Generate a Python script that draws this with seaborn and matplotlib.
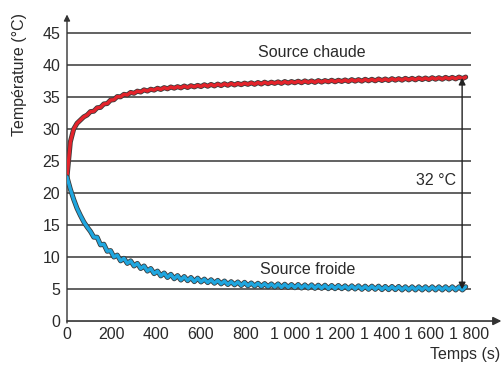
import numpy as np
import pandas as pd
import matplotlib
matplotlib.use("Agg")
import matplotlib.pyplot as plt
import matplotlib.patheffects as pe
import seaborn as sns

# temps d'échantillonnage (s)
temps = np.arange(0, 1800, 15)

# source chaude (°C)
chaude = [22.5, 28.0, 30.0, 30.9, 31.4, 31.9, 32.18, 32.72, 32.78, 33.32,
          33.38, 33.92, 33.98, 34.52, 34.58, 35.07, 35.03, 35.42, 35.33, 35.72,
          35.58, 35.92, 35.78, 36.12, 35.93, 36.22, 36.08, 36.37, 36.18, 36.47,
          36.28, 36.57, 36.38, 36.62, 36.43, 36.72, 36.48, 36.77, 36.58, 36.82,
          36.63, 36.92, 36.68, 36.97, 36.73, 37.02, 36.78, 37.07, 36.83, 37.12,
          36.88, 37.12, 36.93, 37.17, 36.98, 37.22, 36.98, 37.27, 37.03, 37.32,
          37.08, 37.32, 37.13, 37.37, 37.13, 37.42, 37.18, 37.42, 37.23, 37.47,
          37.23, 37.52, 37.28, 37.52, 37.28, 37.57, 37.33, 37.57, 37.38, 37.62,
          37.38, 37.62, 37.43, 37.67, 37.43, 37.72, 37.48, 37.72, 37.48, 37.77,
          37.53, 37.77, 37.53, 37.82, 37.58, 37.82, 37.58, 37.87, 37.63, 37.87,
          37.63, 37.92, 37.68, 37.92, 37.68, 37.97, 37.73, 37.97, 37.73, 38.02,
          37.78, 38.02, 37.78, 38.07, 37.83, 38.07, 37.83, 38.12, 37.88, 38.12]

# source froide (°C)
froide = [22.5, 20.6, 19.0, 17.6, 16.5, 15.5, 14.7, 14.0, 13.1, 13.1,
          11.9, 12.0, 10.9, 11.0, 10.0, 10.3, 9.4, 9.8, 9.0, 9.4,
          8.6, 9.0, 8.2, 8.6, 7.8, 8.2, 7.4, 7.8, 7.05, 7.5,
          6.8, 7.3, 6.6, 7.1, 6.4, 6.95, 6.3, 6.8, 6.15, 6.7,
          6.1, 6.55, 6.0, 6.45, 5.9, 6.35, 5.8, 6.25, 5.7, 6.15,
          5.65, 6.1, 5.55, 6.05, 5.5, 5.95, 5.45, 5.9, 5.4, 5.85,
          5.35, 5.8, 5.3, 5.8, 5.25, 5.75, 5.25, 5.7, 5.2, 5.7,
          5.15, 5.65, 5.15, 5.65, 5.1, 5.6, 5.1, 5.6, 5.05, 5.55,
          5.05, 5.55, 5.05, 5.5, 5.0, 5.5, 5.0, 5.5, 4.95, 5.45,
          4.95, 5.45, 4.95, 5.45, 4.9, 5.4, 4.9, 5.4, 4.9, 5.4,
          4.85, 5.35, 4.85, 5.35, 4.85, 5.35, 4.85, 5.35, 4.85, 5.35,
          4.85, 5.35, 4.85, 5.35, 4.85, 5.35, 4.85, 5.35, 4.85, 5.35]

y_ticks = [0, 5, 10, 15, 20, 25, 30, 35, 40, 45]
x_ticks = [0, 200, 400, 600, 800, 1000, 1200, 1400, 1600, 1800]
x_labels = ["0", "200", "400", "600", "800", "1 000", "1 200", "1 400", "1 600", "1 800"]

df = pd.DataFrame({"temps": temps, "chaude": chaude, "froide": froide})

sns.set_style("white")
plt.rcParams["font.family"] = ["Liberation Sans", "DejaVu Sans"]
txt = "#2a2a2a"
fs = 11.5

fig = plt.figure(figsize=(5.03, 3.67), dpi=100)
ax = fig.add_axes([0.1332, 0.1253, 0.8668, 0.8747])
ax.set_xlim(0, 1952)
ax.set_ylim(0, 50.16)
for s in ax.spines.values():
    s.set_visible(False)

# lignes horizontales
ax.hlines(y_ticks[1:], 0, 1809, color="#555555", lw=1.3, zorder=1)

# axes avec flèches
ax.annotate("", xy=(1945, 0), xytext=(0, 0), annotation_clip=False,
            arrowprops=dict(arrowstyle="-|>", color="#333333", lw=1.2,
                            mutation_scale=12, shrinkA=0, shrinkB=0))
ax.annotate("", xy=(0, 47.9), xytext=(0, -0.3), annotation_clip=False,
            arrowprops=dict(arrowstyle="-|>", color="#333333", lw=1.0,
                            mutation_scale=9, shrinkA=0, shrinkB=0))

edge = [pe.Stroke(linewidth=3.6, foreground="#3a3a3a"), pe.Normal()]
sns.lineplot(data=df, x="temps", y="chaude", ax=ax, color="#e4232b", lw=2.4,
             path_effects=edge, zorder=3)
sns.lineplot(data=df, x="temps", y="froide", ax=ax, color="#1fa6df", lw=2.4,
             path_effects=edge, zorder=3)

ax.set_xticks(x_ticks)
ax.set_xticklabels(x_labels)
ax.set_yticks(y_ticks)
ax.set_yticklabels([str(v) for v in y_ticks])
ax.tick_params(axis="x", direction="in", length=5, width=1, color="#555555",
               pad=4, labelsize=fs, labelcolor=txt)
ax.tick_params(axis="y", length=0, pad=5, labelsize=fs, labelcolor=txt)
ax.set_xlabel("")
ax.set_ylabel("")

# flèche double 32 °C
ax.annotate("", xy=(1769, 4.95), xytext=(1769, 38.0),
            arrowprops=dict(arrowstyle="<|-|>", color="#222222", lw=1.0,
                            mutation_scale=10, shrinkA=0, shrinkB=0))
ax.text(1742, 21.9, "32 °C", ha="right", va="center", fontsize=fs, color=txt)
ax.text(1097, 42.0, "Source chaude", ha="center", va="center", fontsize=fs, color=txt)
ax.text(1079, 8.0, "Source froide", ha="center", va="center", fontsize=fs, color=txt)

fig.text(0.995, 1 - 355 / 367, "Temps (s)", ha="right", va="center",
         fontsize=fs, color=txt)
fig.text(20 / 503, 1 - 75 / 367, "Température (°C)", rotation=90,
         ha="center", va="center", fontsize=fs, color=txt)

fig.savefig("out.png", dpi=100)
